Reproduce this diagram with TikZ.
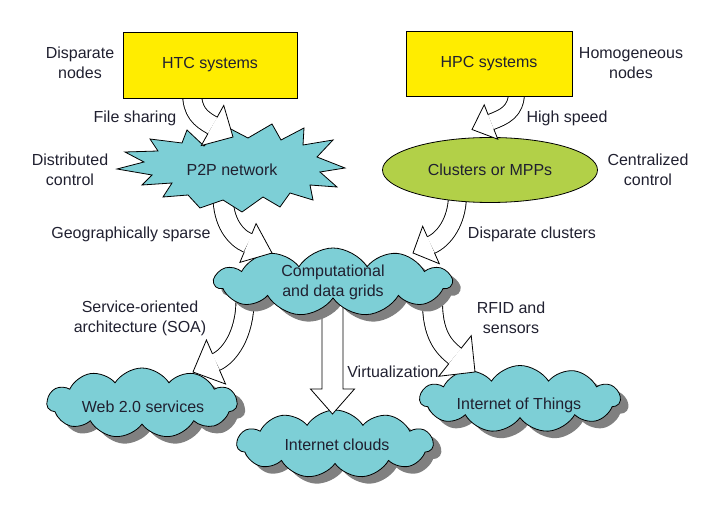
\documentclass[tikz,border=0pt]{standalone}
\usepackage{fontspec}
\setmainfont{Liberation Sans}
\usetikzlibrary{shapes.geometric,shapes.symbols,shadows,calc}
\definecolor{txt}{RGB}{32,32,48}
\definecolor{boxyellow}{RGB}{255,237,0}
\definecolor{cloudteal}{RGB}{125,207,214}
\definecolor{ellgreen}{RGB}{178,208,72}
\definecolor{shadowgray}{RGB}{128,128,128}
% #1 start, #2 first control, #3 head base middle, #4 tip, #5 shaft width, #6 head half width
\newcommand{\fatarr}[6]{%
  \coordinate (fa-c2) at ($(#3)!-14pt!(#4)$);
  \draw[line width=#5+0.9pt] (#1) .. controls (#2) and (fa-c2) .. (#3);
  \filldraw[fill=white, draw=black, line width=0.8pt, line join=miter]
    ($(#3)!#6!90:(#4)$) -- (#4) -- ($(#3)!#6!-90:(#4)$) -- cycle;
  \draw[white, line width=#5-0.9pt] (#1) .. controls (#2) and (fa-c2) .. (#3);
  \draw[white, line width=#5-0.9pt] (#3) -- ($(#3)!1.5pt!(#4)$);
}
\begin{document}
\begin{tikzpicture}[x=1pt,y=-1pt, font=\fontsize{16}{20}\selectfont, text=txt,
  sysbox/.style={draw, line width=0.8pt, fill=boxyellow, minimum width=174pt, minimum height=66pt, inner sep=0pt},
  cloudnode/.style={cloud, cloud puffs=11, cloud puff arc=115, cloud ignores aspect, draw, line width=0.8pt,
    fill=cloudteal, inner sep=0pt, align=center,
    drop shadow={shadow xshift=8pt, shadow yshift=-7pt, fill=shadowgray, opacity=1}},
  lbl/.style={align=center, inner sep=0pt}]
\useasboundingbox (0,0) rectangle (726,505);

% ---------- bottom clouds ----------
\node[cloudnode, minimum width=190pt, minimum height=70pt] (web) at (142,403) {};
\node[cloudnode, minimum width=196pt, minimum height=68pt] (inet) at (335,444) {};
\node[cloudnode, minimum width=200pt, minimum height=67pt] (iot) at (520,399) {};

% ---------- arrows from grid ----------
\coordinate (a5s) at (245,300); \coordinate (a5c) at (245,335); \coordinate (a5e) at (216,362); \coordinate (a5t) at (193,372);
\fatarr{a5s}{a5c}{a5e}{a5t}{18pt}{24pt}
\coordinate (a6s) at (332.5,300); \coordinate (a6e) at (332.5,389); \coordinate (a6t) at (332.5,414);
\filldraw[fill=white, draw=black, line width=0.8pt, line join=miter]
  ($(a6s)+(-10.5,0)$) -- ($(a6e)+(-10.5,0)$) -- ($(a6e)+(-22,0)$) -- (a6t)
  -- ($(a6e)+(22,0)$) -- ($(a6e)+(10.5,0)$) -- ($(a6s)+(10.5,0)$);
\coordinate (a7s) at (432.5,300); \coordinate (a7c) at (432,335); \coordinate (a7e) at (455,356); \coordinate (a7t) at (475,372);
\fatarr{a7s}{a7c}{a7e}{a7t}{20pt}{26pt}

% ---------- grid cloud ----------
\node[cloudnode, minimum width=237pt, minimum height=68pt] (grid) at (333,282) {};

% ---------- arrows to grid ----------
\coordinate (a3s) at (223,196); \coordinate (a3c) at (223,222); \coordinate (a3e) at (248,243); \coordinate (a3t) at (272,253);
\fatarr{a3s}{a3c}{a3e}{a3t}{20pt}{21pt}
\coordinate (a4s) at (457.5,196); \coordinate (a4c) at (457,222); \coordinate (a4e) at (431,245); \coordinate (a4t) at (413,253);
\fatarr{a4s}{a4c}{a4e}{a4t}{18pt}{20.5pt}

% ---------- starburst and ellipse ----------
\filldraw[fill=cloudteal, line width=0.8pt, line join=miter]
  (117,169) -- (144,162) -- (125,152) -- (158,151) -- (150,139) -- (182,143) -- (187,130) -- (204,146)
  -- (225,126) -- (248,138) -- (272,124) -- (281,140) -- (304,128) -- (303,145) -- (333,140) -- (317,157)
  -- (345,168) -- (320,172) -- (337,187) -- (310,185) -- (313,200) -- (290,193) -- (280,207) -- (263,197)
  -- (242,212) -- (223,200) -- (200,208) -- (188,195) -- (163,197) -- (172,183) -- (142,185) -- (152,175) -- cycle;
\node[ellipse, draw, line width=0.8pt, fill=ellgreen, minimum width=215pt, minimum height=65pt, inner sep=0pt] (clus) at (490,170) {};

% ---------- arrows from boxes ----------
\coordinate (a1s) at (192,92); \coordinate (a1c) at (192,112); \coordinate (a1e) at (212.5,125.5); \coordinate (a1t) at (233,137);
\fatarr{a1s}{a1c}{a1e}{a1t}{19pt}{23pt}
\coordinate (a2s) at (516.5,92); \coordinate (a2c) at (516.5,112); \coordinate (a2e) at (491,122); \coordinate (a2t) at (472,129.5);
\fatarr{a2s}{a2c}{a2e}{a2t}{16pt}{18.5pt}

% ---------- boxes ----------
\node[sysbox] (htc) at (210,65) {HTC systems};
\node[sysbox, minimum width=166pt, minimum height=65pt] (hpc) at (489,63.5) {HPC systems};

% ---------- node texts ----------
\node[lbl] (p2p) at (232,170) {P2P network};
\node[lbl] (clust) at (490,170) {Clusters or MPPs};
\node[lbl] (gridt) at (333,282) {Computational\\and data grids};
\node[lbl] (webt) at (143,407) {Web 2.0 services};
\node[lbl] (inett) at (337,445) {Internet clouds};
\node[lbl] (iott) at (519,405) {Internet of Things};

% ---------- labels ----------
\node[lbl] (l1) at (80,63) {Disparate\\nodes};
\node[lbl] (l2) at (631,63) {Homogeneous\\nodes};
\node[lbl] (l3) at (135,118) {File sharing};
\node[lbl] (l4) at (567,118) {High speed};
\node[lbl] (l5) at (70,170) {Distributed\\control};
\node[lbl] (l6) at (648,170) {Centralized\\control};
\node[lbl] (l7) at (131,234) {Geographically sparse};
\node[lbl] (l8) at (532,234) {Disparate clusters};
\node[lbl] (l9) at (140,318) {Service-oriented\\architecture (SOA)};
\node[lbl] (l10) at (511,318) {RFID and\\sensors};
\node[lbl] (l11) at (393,372) {Virtualization};
\end{tikzpicture}
\end{document}
